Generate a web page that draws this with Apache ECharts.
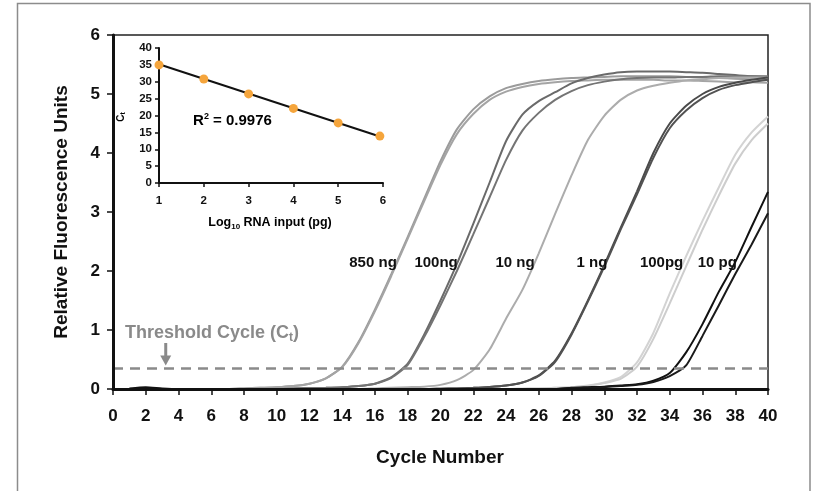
<!DOCTYPE html>
<html><head><meta charset="utf-8">
<script src="https://cdn.jsdelivr.net/npm/echarts@6/dist/echarts.min.js"></script>
<style>html,body{margin:0;padding:0;background:#fff}#c{width:816px;height:491px}</style>
</head><body><div id="c"></div>
<script>
// ---------- data ----------
const cycles = [1,2,3,4,5,6,7,8,9,10,11,12,13,14,15,16,17,18,19,20,21,22,23,24,25,26,27,28,29,30,31,32,33,34,35,36,37,38,39,40];
const rfu850a = [0,0,0,0,0,0,0,0.01,0.02,0.03,0.05,0.09,0.18,0.38,0.8,1.35,1.95,2.58,3.22,3.86,4.4,4.74,4.96,5.1,5.17,5.22,5.25,5.27,5.28,5.29,5.3,5.3,5.3,5.3,5.29,5.28,5.27,5.26,5.25,5.24];
const rfu850b = [0,0,0,0,0,0,0,0.01,0.02,0.03,0.05,0.09,0.18,0.37,0.78,1.32,1.92,2.55,3.18,3.8,4.32,4.66,4.9,5.04,5.12,5.17,5.2,5.22,5.23,5.24,5.24,5.24,5.24,5.23,5.23,5.22,5.21,5.2,5.2,5.19];
const rfu100ngA = [0,0,0,0,0,0,0,0,0,0,0.01,0.015,0.02,0.03,0.05,0.09,0.2,0.43,0.92,1.5,2.12,2.8,3.5,4.2,4.65,4.88,5.03,5.18,5.27,5.33,5.37,5.38,5.38,5.38,5.37,5.36,5.34,5.32,5.3,5.29];
const rfu100ngB = [0,0,0,0,0,0,0,0,0,0,0.01,0.015,0.02,0.03,0.05,0.09,0.19,0.41,0.88,1.42,2.0,2.62,3.25,3.88,4.38,4.68,4.9,5.05,5.15,5.21,5.25,5.27,5.28,5.28,5.29,5.29,5.3,5.3,5.3,5.3];
const rfu10ng = [0,0,0,0,0,0,0,0,0,0,0,0,0,0,0,0.01,0.02,0.03,0.04,0.07,0.15,0.32,0.67,1.19,1.68,2.3,2.97,3.62,4.22,4.63,4.9,5.06,5.14,5.19,5.23,5.25,5.27,5.28,5.28,5.28];
const rfu1ngA = [0,0,0,0,0,0,0,0,0,0,0,0,0,0,0,0,0,0,0,0.005,0.01,0.02,0.035,0.06,0.11,0.23,0.48,0.94,1.5,2.1,2.73,3.35,4.0,4.5,4.8,5.0,5.12,5.19,5.24,5.28];
const rfu1ngB = [0,0,0,0,0,0,0,0,0,0,0,0,0,0,0,0,0,0,0,0.005,0.01,0.02,0.035,0.06,0.11,0.22,0.46,0.92,1.48,2.07,2.7,3.3,3.92,4.42,4.72,4.93,5.07,5.15,5.2,5.24];
const rfu100pgA = [0,0,0,0,0,0,0,0,0,0,0,0,0,0,0,0,0,0,0,0,0,0,0,0,0.005,0.01,0.02,0.03,0.06,0.11,0.2,0.45,0.95,1.62,2.25,2.85,3.42,3.97,4.35,4.62];
const rfu100pgB = [0,0,0,0,0,0,0,0,0,0,0,0,0,0,0,0,0,0,0,0,0,0,0,0,0.005,0.01,0.02,0.03,0.05,0.1,0.17,0.38,0.85,1.45,2.08,2.7,3.28,3.82,4.22,4.5];
const rfu10pgA = [0.01,0.03,0.01,0,0,0,0,0,0,0,0,0,0,0,0,0,0,0,0,0,0,0,0,0,0,0,0,0.02,0.03,0.04,0.06,0.08,0.14,0.27,0.62,1.1,1.65,2.15,2.75,3.34];
const rfu10pgB = [0,0,0,0,0,0,0,0,0,0,0,0,0,0,0,0,0,0,0,0,0,0,0,0,0,0,0,0.015,0.02,0.03,0.05,0.07,0.12,0.22,0.4,0.9,1.42,1.95,2.45,2.98];
const threshold = 0.35;

const curveLabels = ['850 ng','100ng','10 ng','1 ng','100pg','10 pg'];
const curveLabelCycle = [15.88,19.73,24.55,29.25,33.5,36.9];
const curveLabelLevel = 2.14;

// inset standard curve
const logInput = [1,2,3,4,5,5.93];
const ctValues = [35.0,30.8,26.4,22.1,17.8,13.9];
const trendX = [1,5.93];
const trendY = [35.2,13.8];
const r2Text = '0.9976';

// ---------- chart ----------
const FF = '"Liberation Sans", Arial, Helvetica, sans-serif';
const chart = echarts.init(document.getElementById('c'), null, {renderer:'canvas'});

function curve(name, vals, color, w){
  return {type:'line', name, xAxisIndex:0, yAxisIndex:0, silent:true, animation:false,
    showSymbol:false, symbol:'none', z:3, smooth:0.2,
    data: cycles.map((c,i)=>[c, vals[i]]),
    lineStyle:{color, width:w||2}, itemStyle:{color}};
}

const series = [
  curve('850a', rfu850a, '#9b9b9b'),
  curve('850b', rfu850b, '#a4a4a4'),
  curve('100ngA', rfu100ngA, '#6a6a6a'),
  curve('100ngB', rfu100ngB, '#747474'),
  curve('10ng', rfu10ng, '#acacac'),
  curve('1ngA', rfu1ngA, '#4a4a4a'),
  curve('1ngB', rfu1ngB, '#525252'),
  curve('100pgA', rfu100pgA, '#d3d3d3'),
  curve('100pgB', rfu100pgB, '#cdcdcd'),
  curve('10pgA', rfu10pgA, '#111111'),
  curve('10pgB', rfu10pgB, '#1a1a1a'),
];
// threshold line
series[0].markLine = {silent:true, symbol:'none', animation:false, label:{show:false},
  lineStyle:{color:'#8a8a8a', type:[10,7], width:2.5}, data:[{yAxis:threshold}]};
// curve labels
series.push({type:'scatter', xAxisIndex:0, yAxisIndex:0, silent:true, animation:false, symbolSize:0, z:6,
  itemStyle:{opacity:1, color:'#111'},
  data: curveLabels.map((t,i)=>[curveLabelCycle[i], curveLabelLevel, t]),
  label:{show:true, position:'inside', formatter:p=>p.value[2], color:'#111', opacity:1, textBorderWidth:0, fontSize:15, fontWeight:'bold', fontFamily:FF}});
// inset
series.push({type:'line', xAxisIndex:1, yAxisIndex:1, silent:true, animation:false, showSymbol:false, symbol:'none', z:4,
  data: trendX.map((x,i)=>[x, trendY[i]]), lineStyle:{color:'#111', width:2}});
series.push({type:'scatter', xAxisIndex:1, yAxisIndex:1, silent:true, animation:false, symbolSize:9, z:5,
  data: logInput.map((x,i)=>[x, ctValues[i]]), itemStyle:{color:'#f5a53c', opacity:1}});

const bigLab = {fontSize:17, fontWeight:'bold', color:'#111', fontFamily:FF};
const smLab = {fontSize:11.5, fontWeight:'bold', color:'#111', fontFamily:FF};

chart.setOption({
  animation:false,
  backgroundColor:'#fff',
  grid:[
    {left:113, top:35, width:655, height:354, show:true, borderColor:'#222', borderWidth:1.5, backgroundColor:'transparent'},
    {left:159, top:48, width:224, height:135, show:false}
  ],
  xAxis:[
    {type:'value', gridIndex:0, min:0, max:40, interval:2, z:5,
      axisLine:{show:true, onZero:false, lineStyle:{color:'#111', width:3}},
      axisTick:{show:true, inside:false, length:6, lineStyle:{color:'#111', width:1.5}},
      axisLabel:Object.assign({margin:19}, bigLab), splitLine:{show:false}},
    {type:'value', gridIndex:1, min:1, max:6, interval:1, z:5,
      axisLine:{show:true, onZero:false, lineStyle:{color:'#111', width:2}},
      axisTick:{show:true, inside:false, length:4, lineStyle:{color:'#111', width:1.5}},
      axisLabel:Object.assign({margin:12}, smLab), splitLine:{show:false}}
  ],
  yAxis:[
    {type:'value', gridIndex:0, min:0, max:6, interval:1, z:5,
      axisLine:{show:true, onZero:false, lineStyle:{color:'#111', width:3}},
      axisTick:{show:true, inside:false, length:6, lineStyle:{color:'#111', width:1.5}},
      axisLabel:Object.assign({margin:13}, bigLab), splitLine:{show:false}},
    {type:'value', gridIndex:1, min:0, max:40, interval:5, z:5,
      axisLine:{show:true, onZero:false, lineStyle:{color:'#111', width:2}},
      axisTick:{show:true, inside:false, length:4, lineStyle:{color:'#111', width:1.5}},
      axisLabel:Object.assign({margin:7}, smLab), splitLine:{show:false}}
  ],
  series
});

// annotations positioned through the axes
const a1 = chart.convertToPixel({gridIndex:0}, [3.22, 0.78]);
const a2 = chart.convertToPixel({gridIndex:0}, [3.22, 0.40]);
const tPos = chart.convertToPixel({gridIndex:0}, [0.73, 0.95]);
const rPos = chart.convertToPixel({gridIndex:1}, [1.76, 18.4]);
const gray = '#8a8a8a';

chart.setOption({
  graphic:[
    {type:'rect', silent:true, z:0, shape:{x:17.5, y:3.5, width:792.5, height:520},
      style:{fill:'none', stroke:'#8c8c8c', lineWidth:1.5}},
    {type:'text', silent:true, x:440, y:458,
      style:{text:'Cycle Number', fontSize:19, fontWeight:'bold', fontFamily:FF, fill:'#111', align:'center', verticalAlign:'middle'}},
    {type:'text', silent:true, x:62, y:212, rotation:Math.PI/2,
      style:{text:'Relative Fluorescence Units', fontSize:19, fontWeight:'bold', fontFamily:FF, fill:'#111', align:'center', verticalAlign:'middle'}},
    {type:'text', silent:true, x:tPos[0], y:tPos[1],
      style:{text:'{a|Threshold Cycle (C}{s|t}{a|)}', align:'left', verticalAlign:'middle',
        rich:{a:{fontSize:18, fontWeight:'bold', fontFamily:FF, fill:gray, color:gray, lineHeight:22},
              s:{fontSize:12, fontWeight:'bold', fontFamily:FF, fill:gray, color:gray, lineHeight:12, verticalAlign:'bottom'}}}},
    {type:'line', silent:true, shape:{x1:a1[0], y1:a1[1], x2:a2[0], y2:a2[1]-8},
      style:{stroke:gray, lineWidth:3}},
    {type:'polygon', silent:true, shape:{points:[[a2[0]-5.5, a2[1]-10],[a2[0]+5.5, a2[1]-10],[a2[0], a2[1]]]},
      style:{fill:gray}},
    {type:'text', silent:true, x:rPos[0], y:rPos[1],
      style:{text:'{a|R}{s|2}{a| = '+r2Text+'}', align:'left', verticalAlign:'middle',
        rich:{a:{fontSize:15, fontWeight:'bold', fontFamily:FF, color:'#111', lineHeight:18},
              s:{fontSize:9, fontWeight:'bold', fontFamily:FF, color:'#111', lineHeight:18, verticalAlign:'top'}}}},
    {type:'text', silent:true, x:270, y:223,
      style:{text:'{a|Log}{s|10}{a| RNA input (pg)}', align:'center', verticalAlign:'middle',
        rich:{a:{fontSize:12.5, fontWeight:'bold', fontFamily:FF, color:'#111', lineHeight:15},
              s:{fontSize:8, fontWeight:'bold', fontFamily:FF, color:'#111', lineHeight:10, verticalAlign:'bottom'}}}},
    {type:'text', silent:true, x:121, y:117, rotation:Math.PI/2,
      style:{text:'{a|C}{s|t}', align:'center', verticalAlign:'middle',
        rich:{a:{fontSize:10, fontWeight:'bold', fontFamily:FF, color:'#111', lineHeight:12},
              s:{fontSize:7, fontWeight:'bold', fontFamily:FF, color:'#111', lineHeight:8, verticalAlign:'bottom'}}}}
  ]
});
</script></body></html>
